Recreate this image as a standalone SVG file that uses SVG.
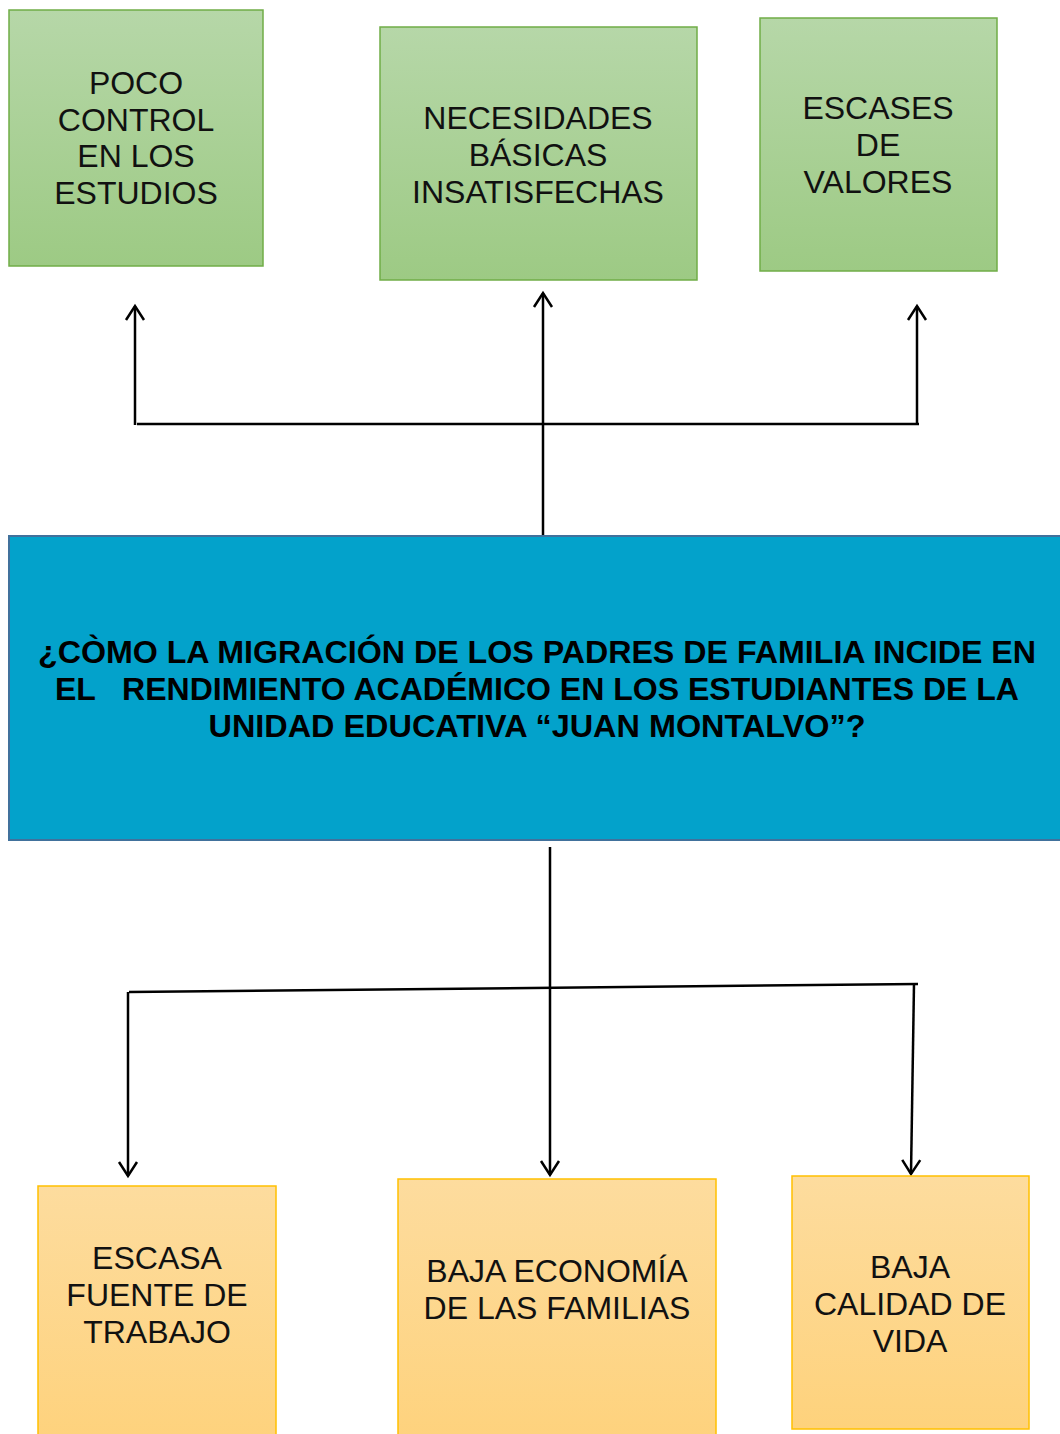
<svg xmlns="http://www.w3.org/2000/svg" width="1060" height="1434" viewBox="0 0 1060 1434">
<defs>
<linearGradient id="gGreen" x1="0" y1="0" x2="0" y2="1"><stop offset="0" stop-color="#B6D7A8"/><stop offset="1" stop-color="#9DCA84"/></linearGradient>
<linearGradient id="gOrange" x1="0" y1="0" x2="0" y2="1"><stop offset="0" stop-color="#FDDC9E"/><stop offset="1" stop-color="#FED27C"/></linearGradient>
<marker id="arr" markerWidth="24" markerHeight="24" refX="16" refY="10" orient="auto" markerUnits="userSpaceOnUse" viewBox="0 0 24 20">
<path d="M2,1 L16,10 L2,19" fill="none" stroke="#000" stroke-width="2.5"/>
</marker>
</defs>
<style>
.green{fill:url(#gGreen);stroke:#70AD47;stroke-width:1.5}
.orange{fill:url(#gOrange);stroke:#FFC000;stroke-width:1.5}
.t{font-family:"Liberation Sans",Arial,sans-serif;font-size:32px;fill:#111;text-anchor:middle}
.q{font-family:"Liberation Sans",Arial,sans-serif;font-size:31px;font-weight:bold;fill:#000;text-anchor:middle}
.c{fill:none;stroke:#000;stroke-width:2.5}
</style>
<rect width="1060" height="1434" fill="#fff"/>
<g id="connectors">
<line class="c" x1="135" y1="425" x2="135" y2="306" marker-end="url(#arr)"/>
<line class="c" x1="137" y1="424" x2="919" y2="424"/>
<line class="c" x1="543" y1="535" x2="543" y2="293" marker-end="url(#arr)"/>
<line class="c" x1="917" y1="424" x2="917" y2="306" marker-end="url(#arr)"/>
<line class="c" x1="550" y1="847" x2="550" y2="1175" marker-end="url(#arr)"/>
<line class="c" x1="129" y1="992" x2="918" y2="984"/>
<line class="c" x1="128" y1="992" x2="128" y2="1176" marker-end="url(#arr)"/>
<line class="c" x1="914" y1="984" x2="911" y2="1174" marker-end="url(#arr)"/>
</g>
<g id="n1"><rect class="green" x="9" y="10" width="254" height="256"/>
<text class="t" x="136" y="94">POCO</text><text class="t" x="136" y="131">CONTROL</text><text class="t" x="136" y="167">EN LOS</text><text class="t" x="136" y="204">ESTUDIOS</text></g>
<g id="n2"><rect class="green" x="380" y="27" width="317" height="253"/>
<text class="t" x="538" y="129">NECESIDADES</text><text class="t" x="538" y="166">BÁSICAS</text><text class="t" x="538" y="203">INSATISFECHAS</text></g>
<g id="n3"><rect class="green" x="760" y="18" width="237" height="253"/>
<text class="t" x="878" y="119">ESCASES</text><text class="t" x="878" y="156">DE</text><text class="t" x="878" y="193">VALORES</text></g>
<g id="center"><rect x="9" y="536" width="1060" height="304" fill="#03A2CB" stroke="#41719C" stroke-width="2"/>
<text class="q" x="537" y="663" textLength="998" lengthAdjust="spacingAndGlyphs">¿CÒMO LA MIGRACIÓN DE LOS PADRES DE FAMILIA INCIDE EN</text>
<text class="q" x="537" y="700" textLength="964" lengthAdjust="spacingAndGlyphs" xml:space="preserve">EL   RENDIMIENTO ACADÉMICO EN LOS ESTUDIANTES DE LA</text>
<text class="q" x="537" y="737" textLength="657" lengthAdjust="spacingAndGlyphs">UNIDAD EDUCATIVA “JUAN MONTALVO”?</text></g>
<g id="n4"><rect class="orange" x="38" y="1186" width="238" height="260"/>
<text class="t" x="157" y="1269">ESCASA</text><text class="t" x="157" y="1306">FUENTE DE</text><text class="t" x="157" y="1343">TRABAJO</text></g>
<g id="n5"><rect class="orange" x="398" y="1179" width="318" height="267"/>
<text class="t" x="557" y="1282">BAJA ECONOMÍA</text><text class="t" x="557" y="1319">DE LAS FAMILIAS</text></g>
<g id="n6"><rect class="orange" x="792" y="1176" width="237" height="253"/>
<text class="t" x="910" y="1278">BAJA</text><text class="t" x="910" y="1315">CALIDAD DE</text><text class="t" x="910" y="1352">VIDA</text></g>
</svg>
